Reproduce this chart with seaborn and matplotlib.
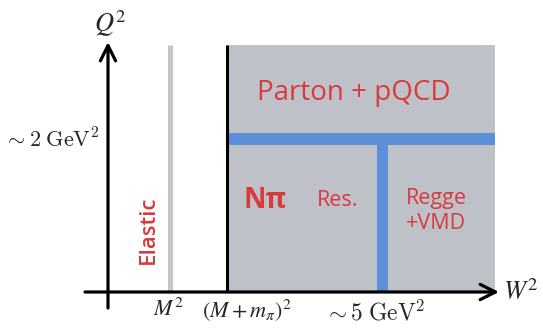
import matplotlib
matplotlib.use("Agg")
import matplotlib.pyplot as plt
import seaborn as sns
import pandas as pd

# Schematic kinematic plane (W^2, Q^2), arbitrary units, origin at (0, 0)
w2_marks = {"elastic": 62, "threshold": 119, "regge": 274, "edge": 387}
q2_marks = {"pqcd": 153, "top": 247}
region_labels = ["Parton + pQCD", "Nπ", "Res.", "Regge\n+VMD", "Elastic"]
tick_labels = [r"$M^2$", r"$(M+m_\pi)^2$", r"$\sim 5\;\mathrm{GeV}^2$", r"$\sim 2\;\mathrm{GeV}^2$"]

RED = "#d93a3c"
GRAY = "#bec1c8"
BLUE = "#5c8fd8"

sns.set_theme(style="white")
plt.rcParams["font.family"] = ["Open Sans", "DejaVu Sans"]

fig = plt.figure(figsize=(5.43, 3.28), dpi=100)
ax = fig.add_axes([0, 0, 1, 1])
ax.set_xlim(-108, 435)
ax.set_ylim(-36, 292)
ax.axis("off")

thr, reg, edge = w2_marks["threshold"], w2_marks["regge"], w2_marks["edge"]
top, qb = q2_marks["top"], q2_marks["pqcd"]

# inelastic region
ax.fill_between([thr, edge], 0, top, color=GRAY, lw=0, zorder=1)

# elastic line
ax.plot([w2_marks["elastic"]] * 2, [0, top], color="#c4c6cc", lw=3.6,
        solid_capstyle="butt", zorder=2)

# region boundaries
bounds = pd.DataFrame({
    "w2": [thr, edge, reg, reg],
    "q2": [qb, qb, qb, 0],
    "seg": ["h", "h", "v", "v"],
})
sns.lineplot(data=bounds[bounds.seg == "h"], x="w2", y="q2", color=BLUE,
             lw=8.6, ax=ax, zorder=3, legend=False, sort=False, estimator=None)
sns.lineplot(data=bounds[bounds.seg == "v"], x="w2", y="q2", color=BLUE,
             lw=7.9, ax=ax, zorder=3, legend=False, sort=False, estimator=None)
for ln in ax.lines[-2:]:
    ln.set_solid_capstyle("butt")

# pion threshold line
ax.plot([thr, thr], [0, top], color="black", lw=2.2, solid_capstyle="butt", zorder=4)

# axes arrows
arrow = dict(arrowstyle="->,head_length=1.1,head_width=0.55", lw=2.3,
             color="black", shrinkA=0, shrinkB=0, mutation_scale=10)
ax.annotate("", xy=(0, 250), xytext=(0, -16), arrowprops=arrow, zorder=5)
ax.annotate("", xy=(391, 0), xytext=(-23, 0), arrowprops=arrow, zorder=5)

ax.text(2, 268, r"$Q^2$", fontsize=19, math_fontfamily="stix", ha="center", va="center")
ax.text(413, -1, r"$W^2$", fontsize=19, math_fontfamily="stix", ha="center", va="center")

# region labels
ax.text((thr + edge) / 2 - 7, 199, region_labels[0], color=RED, fontsize=20,
        ha="center", va="center")
ax.text(157, 92, region_labels[1], color=RED, fontsize=20, fontweight="bold",
        ha="center", va="center")
ax.text(230, 92, region_labels[2], color=RED, fontsize=15.5, ha="center", va="center")
ax.text(328, 81, region_labels[3], color=RED, fontsize=15.5, ha="center", va="center",
        linespacing=1.2)
ax.text(40, 62, region_labels[4], color=RED, fontsize=16, fontweight="semibold",
        rotation=90, ha="center", va="center")

# tick-like labels
ax.text(60, -18, tick_labels[0], fontsize=16, math_fontfamily="stix", ha="center", va="center")
ax.text(139, -18, tick_labels[1], fontsize=16, math_fontfamily="stix", ha="center", va="center")
ax.text(267, -22, tick_labels[2], fontsize=17, math_fontfamily="cm", ha="center", va="center")
ax.text(-8, 152, tick_labels[3], fontsize=16, math_fontfamily="cm", ha="right", va="center")

fig.savefig("out.png", dpi=100, facecolor="white")
